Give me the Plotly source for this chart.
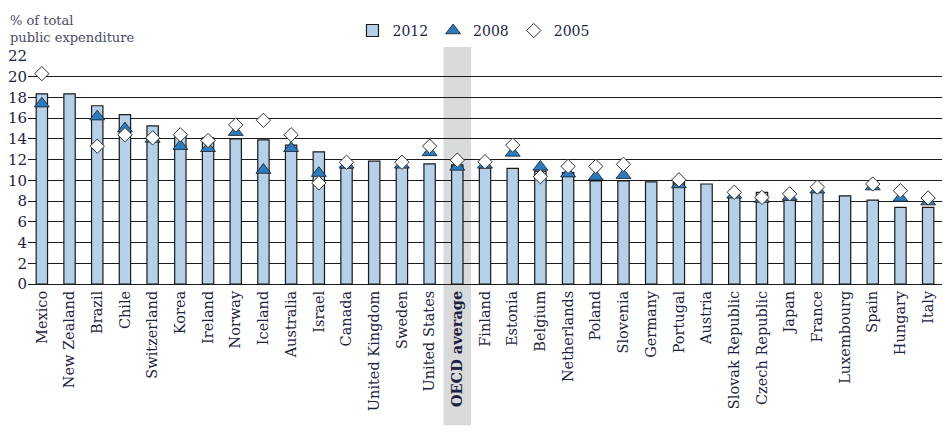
import plotly.graph_objects as go

countries = ["Mexico", "New Zealand", "Brazil", "Chile", "Switzerland", "Korea", "Ireland",
             "Norway", "Iceland", "Australia", "Israel", "Canada", "United Kingdom", "Sweden",
             "United States", "OECD average", "Finland", "Estonia", "Belgium", "Netherlands",
             "Poland", "Slovenia", "Germany", "Portugal", "Austria", "Slovak Republic",
             "Czech Republic", "Japan", "France", "Luxembourg", "Spain", "Hungary", "Italy"]

v2012 = [18.35, 18.35, 17.2, 16.35, 15.25, 14.5, 14.1, 14.0, 13.9, 13.4, 12.75, 11.2, 11.85,
         11.3, 11.6, 11.5, 11.2, 11.15, 10.9, 10.75, 9.95, 9.95, 9.85, 9.85, 9.65, 8.35,
         8.85, 8.1, 8.85, 8.5, 8.1, 7.4, 7.4]

v2008 = [17.4, None, 16.15, 15.0, 14.0, 13.3, 13.1, 14.65, 11.0, 13.1, 10.7, 11.5, None,
         11.5, 12.7, 11.3, 11.5, 12.65, 11.3, 10.65, 10.35, 10.5, None, 9.6, None, 8.6,
         8.2, 8.4, 9.1, None, 9.4, 8.3, 7.95]

v2005 = [20.3, None, 13.3, 14.4, 14.1, 14.4, 13.85, 15.35, 15.8, 14.4, 9.75, 11.75, None,
         11.75, 13.3, 11.95, 11.8, 13.4, 10.35, 11.35, 11.35, 11.55, None, 10.05, None, 8.85,
         8.35, 8.7, 9.35, None, 9.65, 9.0, 8.3]

y_ticks = list(range(0, 23, 2))
tick_text = ["<b>%s</b>" % c if c == "OECD average" else c for c in countries]

FONT = "DejaVu Serif"
TXT = "#1c2340"

fig = go.Figure()
fig.add_trace(go.Bar(
    x=countries, y=v2012, name="2012", width=0.41,
    marker=dict(color="#B5D0E8", line=dict(color="#1a1a1a", width=1.2)),
))
fig.add_trace(go.Scatter(
    x=countries, y=v2008, name="2008", mode="markers",
    marker=dict(symbol="triangle-up", size=13, color="#2B7BBE",
                line=dict(color="#1a1a1a", width=0.8)),
))
fig.add_trace(go.Scatter(
    x=countries, y=v2005, name="2005", mode="markers",
    marker=dict(symbol="diamond", size=11, color="white",
                line=dict(color="#333333", width=1)),
))

fig.add_shape(type="rect", xref="x", yref="paper", x0=14.5, x1=15.5, y0=-0.62, y1=1.04,
              fillcolor="#D9DADC", line=dict(width=0), layer="below")

fig.add_annotation(xref="paper", yref="paper", x=-0.0215, y=1.197, xanchor="left",
                   yanchor="top", align="left", showarrow=False,
                   text="% of total<br>public expenditure",
                   font=dict(family=FONT, size=13, color="#4a4a66"))

fig.update_layout(
    width=950, height=433,
    margin=dict(l=20, r=16, t=48, b=157, autoexpand=False),
    paper_bgcolor="white", plot_bgcolor="white",
    font=dict(family=FONT, size=14, color=TXT),
    showlegend=True,
    legend=dict(orientation="h", x=0.355, y=1.11, xanchor="left", yanchor="middle",
                font=dict(family=FONT, size=14, color=TXT), bgcolor="rgba(0,0,0,0)",
                itemwidth=30, tracegroupgap=0),
    bargap=0.5,
)
fig.update_xaxes(type="category", range=[-0.5, 32.5], tickmode="array",
                 tickvals=countries, ticktext=tick_text, tickangle=-90,
                 showgrid=False, showline=True, linecolor="#1a1a1a", linewidth=1,
                 ticks="", automargin=False, tickfont=dict(family=FONT, size=14.5, color=TXT))
fig.update_yaxes(range=[0, 22], tickmode="array", tickvals=y_ticks,
                 showgrid=True, gridcolor="#1a1a1a", gridwidth=1, automargin=False,
                 zeroline=False, showline=False, ticks="",
                 tickfont=dict(family=FONT, size=15, color=TXT))

fig.write_html("out.html")
